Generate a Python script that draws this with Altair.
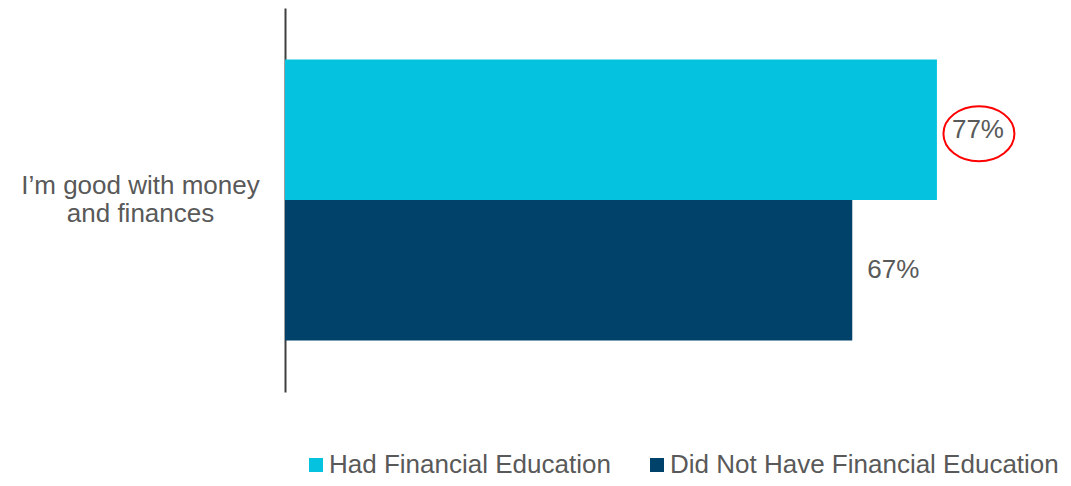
import altair as alt
import pandas as pd

categories = ["I’m good with money\nand finances"]
groups = ["Had Financial Education", "Did Not Have Financial Education"]
values = [77, 67]
labels = ["77%", "67%"]
colors = ["#05C3DE", "#00426A"]

df = pd.DataFrame({
    "category": [categories[0]] * len(groups),
    "group": groups,
    "value": values,
    "label": labels,
})

FONT = "Liberation Sans"
TXT = "#595959"

base = alt.Chart(df)

y_enc = alt.Y(
    "category:N",
    scale=alt.Scale(paddingOuter=0.183, paddingInner=0),
    axis=alt.Axis(
        title=None, ticks=False, tickSize=0, domainColor="#404040", domainWidth=2,
        labelFontSize=26, labelColor=TXT, labelFont=FONT, labelAlign="center",
        labelPadding=145, labelExpr="split(datum.label, '\\n')", labelLineHeight=28,
        labelOffset=-14, labelLimit=0,
    ),
)
yoff = alt.YOffset("group:N", sort=groups, scale=alt.Scale(domain=groups, paddingInner=0, paddingOuter=0))
x_enc = alt.X("value:Q", scale=alt.Scale(domain=[0, 90]), axis=None)

bars = base.mark_bar().encode(
    x=x_enc,
    y=y_enc,
    yOffset=yoff,
    color=alt.Color(
        "group:N", sort=groups,
        scale=alt.Scale(domain=groups, range=colors),
        legend=alt.Legend(
            title=None, orient="none", legendX=18, legendY=444, direction="horizontal",
            symbolType="square", symbolSize=196, symbolStrokeWidth=0,
            labelFontSize=26, labelFont=FONT, labelColor=TXT, labelOffset=0,
            columnPadding=33, padding=0, labelLimit=0,
        ),
    ),
)

text = base.mark_text(align="left", baseline="middle", dx=15, fontSize=26, font=FONT, color=TXT).encode(
    x="value:Q", y=alt.Y("category:N"), yOffset=alt.YOffset("group:N", sort=groups), text="label:N"
)

ellipse_path = "M -1 0.113 A 1 0.775 0 1 0 1 0.113 A 1 0.775 0 1 0 -1 0.113 Z"
ell = base.transform_filter(alt.datum.group == groups[0]).mark_point(
    shape=ellipse_path, size=5041, stroke="#FF0000", strokeWidth=2, filled=False, opacity=1, xOffset=42
).encode(
    x="value:Q", y=alt.Y("category:N"), yOffset=alt.YOffset("group:N", sort=groups)
)

chart = alt.layer(bars, text, ell).properties(
    width=762, height=384,
    background="white",
    autosize=alt.AutoSizeParams(type="none"),
    padding={"left": 277, "top": 0, "right": 14, "bottom": 86},
).configure_view(stroke="transparent", strokeWidth=0)

chart.save("out.html", embed_options={"renderer": "svg", "actions": False})
